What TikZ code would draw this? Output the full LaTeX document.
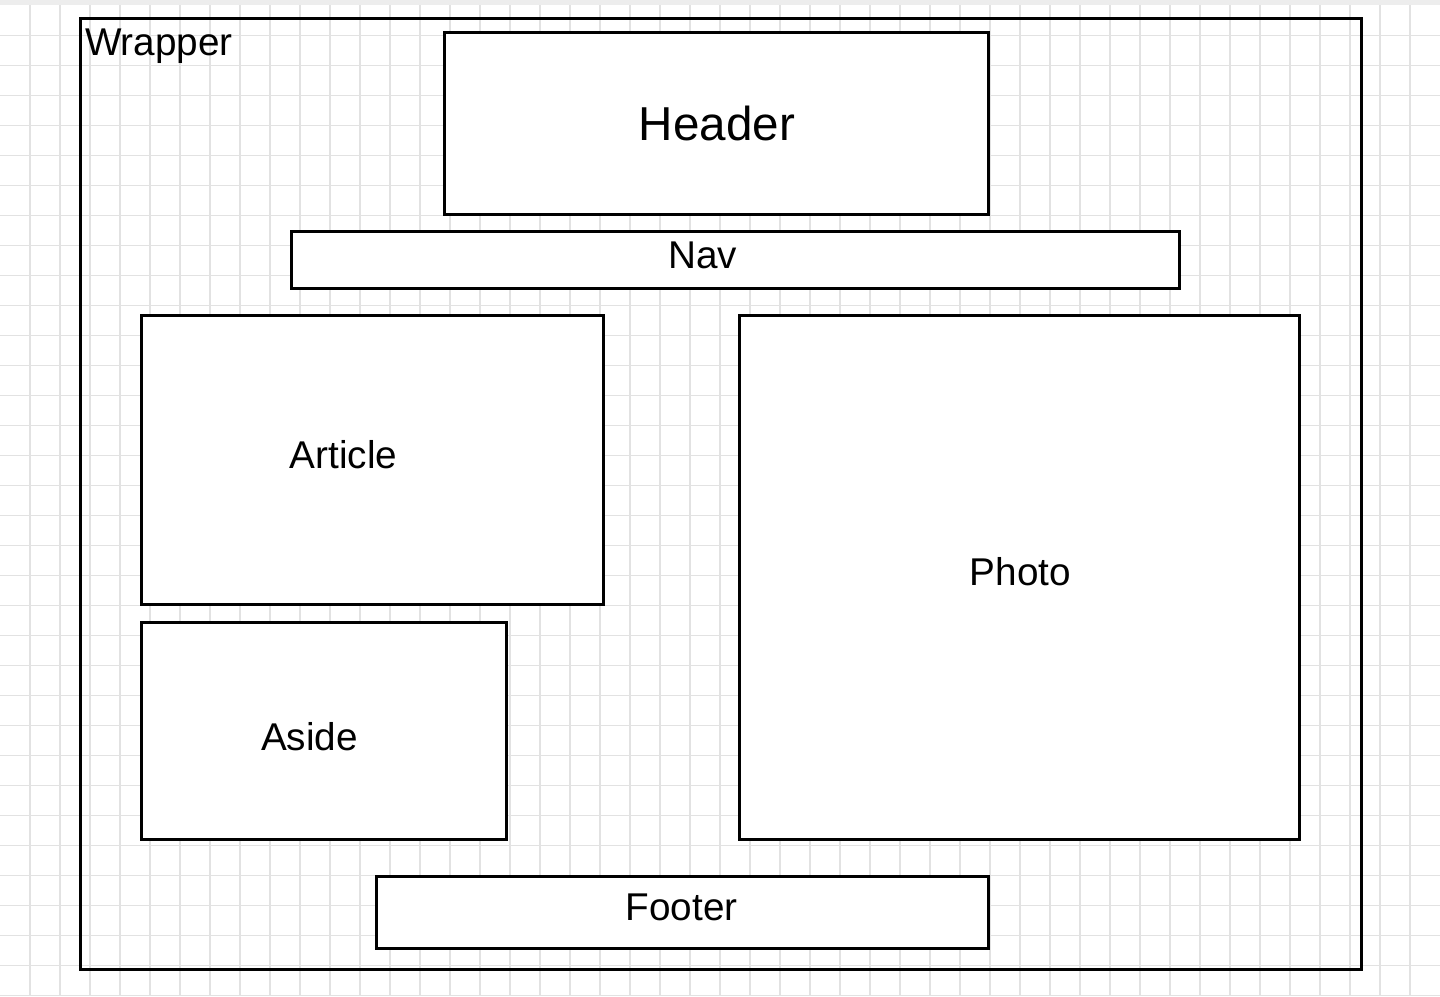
\documentclass[tikz,border=0pt]{standalone}
\usepackage{fontspec}
\setmainfont{Liberation Sans}
\definecolor{gridgray}{HTML}{E2E2E2}
\definecolor{bargray}{HTML}{EDEDED}

\begin{document}
\begin{tikzpicture}[x=1pt,y=-1pt,
        box/.style={shape=rectangle,draw=black,line width=3pt,fill=white,inner sep=0pt},
        lbl/.style={anchor=base,inner sep=0pt,font=\fontsize{38.7}{44}\selectfont},
        biglbl/.style={lbl,font=\fontsize{47.6}{54}\selectfont}]
        \useasboundingbox (0,0) rectangle (1440,996);

        % grid
        \foreach \x in {30,60,...,1410} \draw[gridgray,line width=1.2pt] (\x,0) -- (\x,996);
        \foreach \y in {35.5,65.5,...,995.5} \draw[gridgray,line width=1.2pt] (0,\y) -- (1440,\y);
        \fill[bargray] (0,0) rectangle (1440,5);

        \node[box,fill=none,minimum width=1281pt,minimum height=951pt] (wrapper) at (720.5,493.5) {};
        \node[box,minimum width=544pt,minimum height=182pt] (header) at (716,123) {};
        \node[box,minimum width=888pt,minimum height=57pt] (nav) at (735,259.5) {};
        \node[box,minimum width=462pt,minimum height=289pt] (article) at (372,459.5) {};
        \node[box,minimum width=560pt,minimum height=524pt] (photo) at (1019,577) {};
        \node[box,minimum width=365pt,minimum height=217pt] (aside) at (323.5,730.5) {};
        \node[box,minimum width=612pt,minimum height=72pt] (footer) at (682,912) {};

        \node[lbl] (wrapperlbl) at (159,55) {Wrapper};
        \node[biglbl] (headerlbl) at (717,140) {Header};
        \node[lbl] (navlbl) at (702.5,268) {Nav};
        \node[lbl] (articlelbl) at (343.5,468) {Article};
        \node[lbl] (photolbl) at (1020.5,585) {Photo};
        \node[lbl] (asidelbl) at (309.5,750) {Aside};
        \node[lbl] (footerlbl) at (681.5,920.5) {Footer};
    \end{tikzpicture}
\end{document}
